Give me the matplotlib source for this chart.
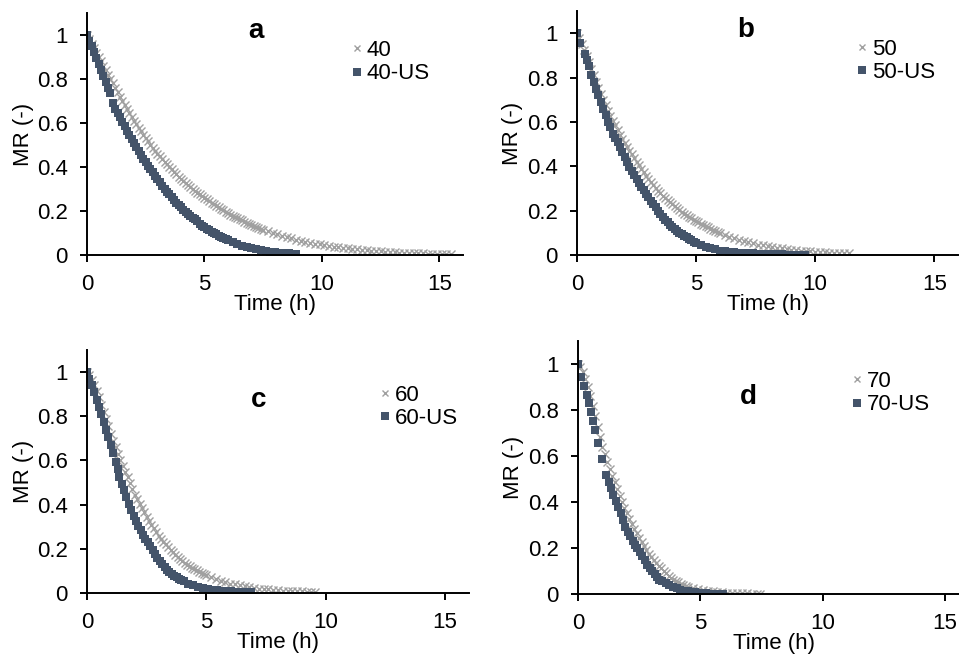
import matplotlib
matplotlib.use("Agg")
import matplotlib.pyplot as plt

plt.rcParams['font.family'] = ['Liberation Sans', 'DejaVu Sans']

# ---- data: time (h) and moisture ratio MR (-) ----
t_40 = [0.0, 0.1, 0.2, 0.3, 0.4, 0.5, 0.6, 0.7, 0.8, 0.9,
        1.0, 1.1, 1.2, 1.3, 1.4, 1.5, 1.6, 1.7, 1.8, 1.9,
        2.0, 2.1, 2.2, 2.3, 2.4, 2.5, 2.6, 2.7, 2.8, 2.9,
        3.0, 3.1, 3.2, 3.3, 3.4, 3.5, 3.6, 3.7, 3.8, 3.9,
        4.0, 4.1, 4.2, 4.3, 4.4, 4.5, 4.6, 4.7, 4.8, 4.9,
        5.0, 5.1, 5.2, 5.3, 5.4, 5.5, 5.6, 5.7, 5.8, 5.9,
        6.0, 6.1, 6.2, 6.3, 6.4, 6.5, 6.6, 6.7, 6.8, 6.9,
        7.0, 7.1, 7.2, 7.3, 7.4, 7.5, 7.7, 7.9, 8.1, 8.3,
        8.5, 8.7, 8.9, 9.1, 9.3, 9.5, 9.7, 9.9, 10.1, 10.3,
        10.5, 10.7, 10.9, 11.1, 11.3, 11.5, 11.7, 11.9, 12.1, 12.3,
        12.5, 12.7, 12.9, 13.1, 13.3, 13.5, 13.7, 13.9, 14.1, 14.3,
        14.5, 14.7, 14.9, 15.1, 15.3, 15.5]
mr_40 = [1.0, 0.98, 0.96, 0.94, 0.92, 0.90, 0.88, 0.86, 0.84, 0.82,
         0.80, 0.78, 0.76, 0.74, 0.72, 0.70, 0.682, 0.664, 0.646, 0.628,
         0.61, 0.594, 0.578, 0.562, 0.546, 0.53, 0.516, 0.502, 0.488, 0.474,
         0.46, 0.448, 0.436, 0.424, 0.412, 0.40, 0.389, 0.378, 0.367, 0.356,
         0.345, 0.336, 0.327, 0.318, 0.309, 0.30, 0.292, 0.284, 0.276, 0.268,
         0.26, 0.253, 0.245, 0.238, 0.23, 0.223, 0.216, 0.21, 0.203, 0.197,
         0.19, 0.184, 0.179, 0.173, 0.168, 0.162, 0.157, 0.152, 0.147, 0.142,
         0.137, 0.133, 0.128, 0.124, 0.119, 0.115, 0.108, 0.1, 0.094, 0.087,
         0.081, 0.076, 0.07, 0.065, 0.06, 0.056, 0.052, 0.048, 0.045, 0.041,
         0.038, 0.035, 0.032, 0.03, 0.027, 0.025, 0.023, 0.021, 0.019, 0.018,
         0.016, 0.015, 0.013, 0.012, 0.011, 0.01, 0.009, 0.008, 0.008, 0.007,
         0.006, 0.005, 0.005, 0.004, 0.003, 0.003]
t_40us = [0.0, 0.1, 0.2, 0.3, 0.4, 0.5, 0.6, 0.7, 0.8, 0.9,
          1.0, 1.1, 1.2, 1.3, 1.4, 1.5, 1.6, 1.7, 1.8, 1.9,
          2.0, 2.1, 2.2, 2.3, 2.4, 2.5, 2.6, 2.7, 2.8, 2.9,
          3.0, 3.1, 3.2, 3.3, 3.4, 3.5, 3.6, 3.7, 3.8, 3.9,
          4.0, 4.1, 4.2, 4.3, 4.4, 4.5, 4.6, 4.7, 4.8, 4.9,
          5.0, 5.1, 5.2, 5.3, 5.4, 5.5, 5.6, 5.7, 5.8, 5.9,
          6.0, 6.2, 6.4, 6.6, 6.8, 7.0, 7.2, 7.4, 7.6, 7.8,
          8.0, 8.2, 8.4, 8.6, 8.8, 8.9]
mr_40us = [1.0, 0.975, 0.95, 0.922, 0.895, 0.867, 0.84, 0.812, 0.785, 0.758,
           0.738, 0.692, 0.665, 0.645, 0.625, 0.605, 0.585, 0.565, 0.545, 0.526,
           0.508, 0.49, 0.473, 0.455, 0.438, 0.421, 0.405, 0.39, 0.375, 0.36,
           0.345, 0.33, 0.315, 0.301, 0.288, 0.275, 0.262, 0.25, 0.238, 0.227,
           0.216, 0.206, 0.196, 0.187, 0.178, 0.17, 0.162, 0.155, 0.14, 0.134,
           0.128, 0.12, 0.113, 0.106, 0.1, 0.094, 0.088, 0.082, 0.077, 0.072,
           0.067, 0.058, 0.05, 0.043, 0.037, 0.031, 0.026, 0.022, 0.018, 0.015,
           0.012, 0.01, 0.008, 0.007, 0.006, 0.005]

t_50 = [0.0, 0.1, 0.2, 0.3, 0.4, 0.5, 0.6, 0.7, 0.8, 0.9,
        1.0, 1.1, 1.2, 1.3, 1.4, 1.5, 1.6, 1.7, 1.8, 1.9,
        2.0, 2.1, 2.2, 2.3, 2.4, 2.5, 2.6, 2.7, 2.8, 2.9,
        3.0, 3.1, 3.2, 3.3, 3.4, 3.5, 3.6, 3.7, 3.8, 3.9,
        4.0, 4.1, 4.2, 4.3, 4.4, 4.5, 4.6, 4.7, 4.8, 4.9,
        5.0, 5.1, 5.2, 5.3, 5.4, 5.5, 5.6, 5.7, 5.8, 5.9,
        6.0, 6.2, 6.4, 6.6, 6.8, 7.0, 7.2, 7.4, 7.6, 7.8,
        8.0, 8.2, 8.4, 8.6, 8.8, 9.0, 9.2, 9.4, 9.6, 9.8,
        10.0, 10.2, 10.4, 10.6, 10.8, 11.0, 11.2, 11.44]
mr_50 = [1.0, 0.977, 0.952, 0.926, 0.898, 0.87, 0.84, 0.81, 0.781, 0.753,
         0.726, 0.7, 0.675, 0.651, 0.628, 0.605, 0.584, 0.563, 0.543, 0.524,
         0.505, 0.487, 0.47, 0.453, 0.436, 0.42, 0.404, 0.388, 0.373, 0.358,
         0.343, 0.329, 0.315, 0.302, 0.29, 0.279, 0.268, 0.258, 0.248, 0.238,
         0.229, 0.22, 0.211, 0.203, 0.195, 0.187, 0.18, 0.173, 0.166, 0.159,
         0.153, 0.147, 0.141, 0.135, 0.129, 0.124, 0.119, 0.114, 0.109, 0.104,
         0.099, 0.09, 0.082, 0.075, 0.068, 0.062, 0.057, 0.052, 0.047, 0.043,
         0.039, 0.036, 0.033, 0.03, 0.027, 0.024, 0.022, 0.02, 0.018, 0.017,
         0.015, 0.013, 0.012, 0.011, 0.01, 0.009, 0.008, 0.007]
t_50us = [0.0, 0.14, 0.32, 0.4, 0.5, 0.6, 0.7, 0.8, 0.9, 1.0,
          1.1, 1.2, 1.3, 1.37, 1.5, 1.6, 1.7, 1.8, 1.9, 2.0,
          2.1, 2.2, 2.3, 2.4, 2.5, 2.6, 2.7, 2.8, 2.9, 3.0,
          3.1, 3.2, 3.3, 3.4, 3.5, 3.6, 3.7, 3.8, 3.9, 4.0,
          4.1, 4.2, 4.3, 4.4, 4.5, 4.6, 4.7, 4.8, 4.9, 5.0,
          5.2, 5.4, 5.6, 5.8, 6.0, 6.2, 6.4, 6.6, 6.8, 7.0,
          7.2, 7.4, 7.6, 7.8, 8.0, 8.2, 8.4, 8.6, 8.8, 9.0,
          9.2, 9.4, 9.57]
mr_50us = [1.0, 0.955, 0.905, 0.88, 0.85, 0.81, 0.78, 0.75, 0.72, 0.69,
           0.66, 0.63, 0.6, 0.578, 0.547, 0.529, 0.508, 0.485, 0.462, 0.44,
           0.418, 0.397, 0.378, 0.36, 0.342, 0.324, 0.307, 0.291, 0.275, 0.26,
           0.245, 0.23, 0.215, 0.2, 0.186, 0.172, 0.159, 0.148, 0.137, 0.127,
           0.117, 0.108, 0.1, 0.093, 0.086, 0.079, 0.072, 0.066, 0.06, 0.055,
           0.046, 0.038, 0.03, 0.025, 0.02, 0.017, 0.014, 0.012, 0.01, 0.009,
           0.008, 0.007, 0.006, 0.005, 0.004, 0.004, 0.003, 0.003, 0.002, 0.002,
           0.002, 0.001, 0.001]

t_60 = [0.0, 0.1, 0.2, 0.3, 0.4, 0.5, 0.6, 0.7, 0.8, 0.9,
        1.0, 1.1, 1.2, 1.3, 1.4, 1.5, 1.6, 1.7, 1.8, 1.9,
        2.0, 2.1, 2.2, 2.3, 2.4, 2.5, 2.6, 2.7, 2.8, 2.9,
        3.0, 3.1, 3.2, 3.3, 3.4, 3.5, 3.6, 3.7, 3.8, 3.9,
        4.0, 4.1, 4.2, 4.3, 4.4, 4.5, 4.6, 4.7, 4.8, 4.9,
        5.0, 5.2, 5.4, 5.6, 5.8, 6.0, 6.2, 6.4, 6.6, 6.8,
        7.0, 7.2, 7.4, 7.6, 7.8, 8.0, 8.2, 8.4, 8.6, 8.8,
        9.0, 9.2, 9.4, 9.55]
mr_60 = [1.0, 0.985, 0.965, 0.943, 0.916, 0.885, 0.853, 0.821, 0.788, 0.754,
         0.72, 0.69, 0.66, 0.631, 0.603, 0.575, 0.549, 0.523, 0.497, 0.471,
         0.445, 0.425, 0.405, 0.385, 0.365, 0.345, 0.327, 0.309, 0.292, 0.276,
         0.26, 0.246, 0.233, 0.22, 0.208, 0.196, 0.185, 0.174, 0.163, 0.154,
         0.145, 0.137, 0.129, 0.122, 0.115, 0.108, 0.102, 0.096, 0.09, 0.085,
         0.08, 0.071, 0.063, 0.055, 0.049, 0.043, 0.039, 0.034, 0.03, 0.026,
         0.023, 0.02, 0.018, 0.016, 0.014, 0.013, 0.011, 0.01, 0.009, 0.008,
         0.007, 0.006, 0.005, 0.005]
t_60us = [0.0, 0.1, 0.2, 0.3, 0.4, 0.5, 0.6, 0.7, 0.8, 0.9,
          1.0, 1.1, 1.2, 1.3, 1.35, 1.45, 1.55, 1.65, 1.75, 1.85,
          1.95, 2.05, 2.15, 2.25, 2.35, 2.45, 2.55, 2.65, 2.75, 2.85,
          2.95, 3.05, 3.15, 3.25, 3.35, 3.45, 3.55, 3.65, 3.75, 3.85,
          3.95, 4.05, 4.25, 4.45, 4.65, 4.85, 5.05, 5.25, 5.45, 5.65,
          5.85, 6.05, 6.25, 6.45, 6.65, 6.86]
mr_60us = [1.0, 0.97, 0.94, 0.908, 0.875, 0.843, 0.81, 0.775, 0.74, 0.704,
           0.668, 0.632, 0.595, 0.56, 0.525, 0.495, 0.464, 0.433, 0.403, 0.374,
           0.348, 0.325, 0.303, 0.283, 0.264, 0.246, 0.23, 0.215, 0.193, 0.176,
           0.16, 0.145, 0.131, 0.118, 0.106, 0.096, 0.087, 0.079, 0.071, 0.064,
           0.058, 0.053, 0.043, 0.035, 0.028, 0.022, 0.018, 0.015, 0.012, 0.01,
           0.008, 0.007, 0.005, 0.004, 0.004, 0.003]

t_70 = [0.0, 0.1, 0.2, 0.3, 0.4, 0.5, 0.6, 0.7, 0.8, 0.9,
        1.0, 1.1, 1.2, 1.3, 1.4, 1.5, 1.6, 1.7, 1.8, 1.9,
        2.0, 2.1, 2.2, 2.3, 2.4, 2.5, 2.6, 2.7, 2.8, 2.9,
        3.0, 3.1, 3.2, 3.3, 3.4, 3.5, 3.6, 3.7, 3.8, 3.9,
        4.0, 4.1, 4.2, 4.3, 4.4, 4.5, 4.7, 4.9, 5.1, 5.3,
        5.5, 5.7, 5.9, 6.1, 6.3, 6.5, 6.7, 6.9, 7.1, 7.3,
        7.44]
mr_70 = [1.0, 0.985, 0.963, 0.935, 0.9, 0.86, 0.817, 0.773, 0.728, 0.684,
         0.64, 0.607, 0.575, 0.544, 0.514, 0.485, 0.456, 0.428, 0.401, 0.375,
         0.35, 0.327, 0.305, 0.284, 0.264, 0.245, 0.226, 0.208, 0.191, 0.175,
         0.16, 0.146, 0.134, 0.122, 0.111, 0.1, 0.09, 0.08, 0.071, 0.063,
         0.056, 0.05, 0.045, 0.04, 0.036, 0.032, 0.026, 0.021, 0.017, 0.014,
         0.011, 0.009, 0.007, 0.006, 0.005, 0.004, 0.003, 0.003, 0.002, 0.002,
         0.002]
t_70us = [0, 0.12, 0.24, 0.35, 0.45, 0.53, 0.6, 0.68, 0.8, 0.97,
          1.14, 1.25, 1.35, 1.45, 1.55, 1.65, 1.75, 1.85, 1.93, 2.03,
          2.13, 2.23, 2.33, 2.43, 2.53, 2.63, 2.73, 2.83, 2.93, 3.03,
          3.13, 3.23, 3.33, 3.43, 3.58, 3.73, 3.88, 4.03, 4.18, 4.33,
          4.48, 4.63, 4.78, 4.93, 5.08, 5.23, 5.38, 5.53, 5.68, 5.93]
mr_70us = [1.0, 0.945, 0.905, 0.865, 0.83, 0.79, 0.75, 0.713, 0.655, 0.586,
           0.517, 0.487, 0.46, 0.432, 0.405, 0.378, 0.35, 0.32, 0.293, 0.27,
           0.25, 0.232, 0.215, 0.2, 0.183, 0.165, 0.146, 0.128, 0.113, 0.1,
           0.087, 0.075, 0.063, 0.055, 0.047, 0.038, 0.03, 0.024, 0.018, 0.014,
           0.011, 0.009, 0.007, 0.005, 0.004, 0.003, 0.002, 0.002, 0.001, 0.001]

temps = ['40', '50', '60', '70']
panel_letters = ['a', 'b', 'c', 'd']
series = [(t_40, mr_40, t_40us, mr_40us), (t_50, mr_50, t_50us, mr_50us),
          (t_60, mr_60, t_60us, mr_60us), (t_70, mr_70, t_70us, mr_70us)]

# layout (figure fractions), legend anchors and letter positions per panel
ax_pos = [[0.0907, 0.6119, 0.392, 0.3683], [0.6017, 0.6119, 0.3973, 0.3714],
          [0.0907, 0.0974, 0.3983, 0.3699], [0.6027, 0.0959, 0.4082, 0.3851]]
leg_anchor = [(0.70, 0.888), (0.731, 0.886), (0.763, 0.856), (0.696, 0.881)]
letter_xy = [(7.2, 0.986), (7.1, 0.982), (7.2, 0.843), (6.95, 0.826)]
ylab_x = [-0.142, -0.142, -0.14, -0.137]

grey = '#A0A0A0'
navy = '#44546A'
fs = 16

fig = plt.figure(figsize=(9.59, 6.57), dpi=100)

for i in range(4):
    ax = fig.add_axes(ax_pos[i])
    t, mr, tus, mrus = series[i]
    ax.plot(t, mr, ls='none', marker='x', ms=6.3, mew=1.0, color=grey, label=temps[i])
    ax.plot(tus, mrus, ls='none', marker='s', ms=6, mew=0, color=navy, label=temps[i] + '-US')

    ax.set_xlim(0, 16)
    ax.set_ylim(0, 1.1)
    ax.set_xticks([0, 5, 10, 15])
    ax.set_yticks([0, 0.2, 0.4, 0.6, 0.8, 1.0])
    ax.set_yticklabels(['0', '0.2', '0.4', '0.6', '0.8', '1'])
    for s in ['top', 'right']:
        ax.spines[s].set_visible(False)
    for s in ['left', 'bottom']:
        ax.spines[s].set_linewidth(1.4)
    ax.tick_params(direction='out', length=5, width=1.4, labelsize=fs)
    ax.tick_params(axis='x', pad=9)
    ax.tick_params(axis='y', pad=9)

    ax.set_xlabel('Time (h)', fontsize=fs, labelpad=-1)
    ax.set_ylabel('MR (-)', fontsize=fs)
    ax.yaxis.set_label_coords(ylab_x[i], 0.5)

    ax.text(letter_xy[i][0], letter_xy[i][1], panel_letters[i], fontsize=20,
            fontweight='bold', ha='center', va='baseline')

    leg = ax.legend(loc='upper left', bbox_to_anchor=leg_anchor[i], frameon=False,
                    fontsize=fs, handlelength=0.6, handletextpad=0.15, borderpad=0,
                    borderaxespad=0, labelspacing=0.1)
    leg.legend_handles[0].set_markersize(5)

fig.savefig('out.png', dpi=100)
